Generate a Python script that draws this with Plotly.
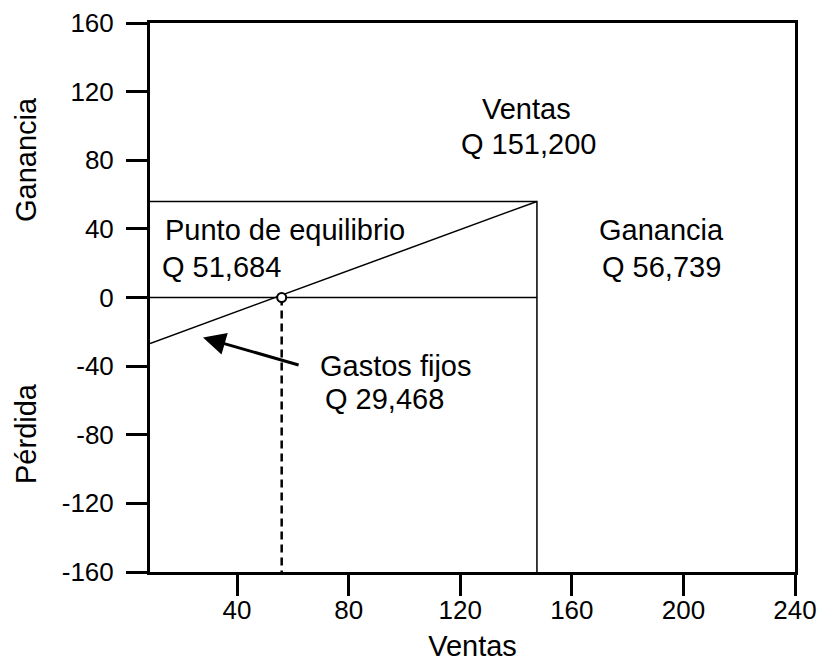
import plotly.graph_objects as go

# ---- data ----
x_ticks = [40, 80, 120, 160, 200, 240]
y_ticks = [-160, -120, -80, -40, 0, 40, 80, 120, 160]
x_range = [8.8, 240]
y_range = [-160, 160]

ventas_x = 147.5          # sales level (vertical line)
ganancia_y = 56.0         # profit at that sales level
equilibrio_x = 56.0       # break-even sales
linea_x = [8.8, 147.5]    # profit line
linea_y = [-26.8, 56.0]

txt_ventas = ["Ventas", "Q 151,200"]
txt_equilibrio = ["Punto de equilibrio", "Q 51,684"]
txt_ganancia = ["Ganancia", "Q 56,739"]
txt_gastos = ["Gastos fijos", "Q 29,468"]
txt_eje_y = ["Ganancia", "Pérdida"]
txt_eje_x = "Ventas"

FONT = "Liberation Sans, Arial, sans-serif"
BLACK = "black"
FS = 29
TFS = 26

W, H = 822, 664
L, R, T, B = 150, 27, 23, 92
PW, PH = W - L - R, H - T - B

fig = go.Figure()

fig.add_trace(go.Scatter(x=[x_range[0], ventas_x, ventas_x], y=[ganancia_y, ganancia_y, y_range[0]],
                         mode="lines", line=dict(color=BLACK, width=1.5), hoverinfo="skip"))
fig.add_trace(go.Scatter(x=[x_range[0], ventas_x], y=[0, 0],
                         mode="lines", line=dict(color=BLACK, width=1.5), hoverinfo="skip"))
fig.add_trace(go.Scatter(x=linea_x, y=linea_y,
                         mode="lines", line=dict(color=BLACK, width=1.5), hoverinfo="skip"))
fig.add_trace(go.Scatter(x=[equilibrio_x, equilibrio_x], y=[0, y_range[0]],
                         mode="lines", line=dict(color=BLACK, width=2.5, dash="8px,5px"), hoverinfo="skip"))
fig.add_trace(go.Scatter(x=[equilibrio_x], y=[0], mode="markers",
                         marker=dict(size=9, color="white", line=dict(color=BLACK, width=2)),
                         hoverinfo="skip"))

def txt(x, y, s, anchor="left"):
    fig.add_annotation(x=x, y=y, xref="x", yref="y", text=s, showarrow=False,
                       xanchor=anchor, yanchor="middle",
                       font=dict(family=FONT, size=FS, color=BLACK))

txt(143.6, 109.6, txt_ventas[0], "center")
txt(144.6, 89.7, txt_ventas[1], "center")
txt(13.5, 39.6, txt_equilibrio[0])
txt(12.4, 18.0, txt_equilibrio[1])
txt(192.3, 39.6, txt_ganancia[0], "center")
txt(192.3, 18.0, txt_ganancia[1], "center")
txt(69.0, -40.2, txt_gastos[0])
txt(70.8, -58.9, txt_gastos[1])

# arrow
fig.add_annotation(x=27.8, y=-23.3, ax=62.6, ay=-39.6, xref="x", yref="y", axref="x", ayref="y",
                   text="", showarrow=True, arrowhead=2, arrowsize=1.5, arrowwidth=3, arrowcolor=BLACK)

# y-axis side labels (pixel positions converted to paper coords)
for s, py in zip(txt_eje_y, [160, 434]):
    fig.add_annotation(x=(26 - L) / PW, y=(H - B - py) / PH, xref="paper", yref="paper",
                       text=s, showarrow=False, textangle=-90, xanchor="center", yanchor="middle",
                       font=dict(family=FONT, size=FS, color=BLACK))

fig.update_layout(
    width=W, height=H,
    margin=dict(l=L, r=R, t=T, b=B, autoexpand=False),
    paper_bgcolor="white", plot_bgcolor="white",
    showlegend=False,
    font=dict(family=FONT, size=TFS, color=BLACK),
    xaxis=dict(range=x_range, tickvals=x_ticks, ticktext=[str(v) for v in x_ticks],
               showgrid=False, zeroline=False, showline=True, linecolor=BLACK, linewidth=3,
               mirror=True, ticks="outside", ticklen=21, tickwidth=3, tickcolor=BLACK,
               automargin=False, ticklabelstandoff=-8,
               tickfont=dict(family=FONT, size=TFS, color=BLACK),
               title=dict(text=txt_eje_x, font=dict(family=FONT, size=FS, color=BLACK), standoff=12)),
    yaxis=dict(range=y_range, tickvals=y_ticks, ticktext=[str(v) for v in y_ticks],
               showgrid=False, zeroline=False, showline=True, linecolor=BLACK, linewidth=3,
               mirror=True, ticks="outside", ticklen=21, tickwidth=3, tickcolor=BLACK,
               automargin=False, ticklabelstandoff=7,
               tickfont=dict(family=FONT, size=TFS, color=BLACK)),
)

fig.write_html("out.html", config={"displayModeBar": False},
               post_script="document.body.style.margin='0';document.body.style.overflow='hidden';")
